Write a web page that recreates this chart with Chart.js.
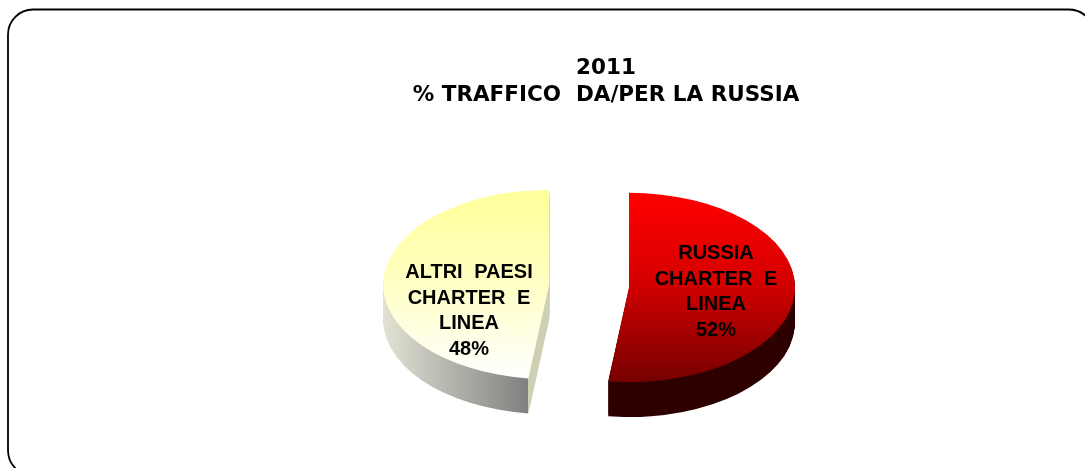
<!DOCTYPE html>
<html><head><meta charset="utf-8">
<style>html,body{margin:0;padding:0;background:#fff}canvas{display:block}</style>
<script src="https://cdn.jsdelivr.net/npm/chart.js@4/dist/chart.umd.min.js"></script>
</head><body>
<canvas id="c" width="1085" height="468"></canvas>
<script>
const titleLines = ["2011", "% TRAFFICO  DA/PER LA RUSSIA"];
const categories = ["RUSSIA CHARTER E LINEA", "ALTRI PAESI CHARTER E LINEA"];
const labelLines = [["RUSSIA", "CHARTER E", "LINEA"], ["ALTRI PAESI", "CHARTER E", "LINEA"]];
const values = [52, 48];

const TILT = 0.57, DEPTH = 35, PIE_X = 589.08, PIE_Y = 286, RADIUS = 166, EXPLODE = 40;
const LABEL_POS = [{x: 716, y: 292}, {x: 469, y: 311}];

function topFill(ctx, i) {
  const c = ctx.chart, a = c.chartArea;
  if (!a) return i === 0 ? "#ff0000" : "#ffff99";
  const cy = (a.top + a.bottom) / 2, R = RADIUS;
  const g = c.ctx.createLinearGradient(0, cy - R, 0, cy + R);
  if (i === 0) { g.addColorStop(0, "#ff0000"); g.addColorStop(0.45, "#d80000"); g.addColorStop(1, "#760000"); }
  else { g.addColorStop(0, "#ffff99"); g.addColorStop(0.45, "#ffffc0"); g.addColorStop(1, "#ffffff"); }
  return g;
}
function sideFill(chart, i) {
  if (i === 0) return "#2e0000";
  const a = chart.chartArea, cx = (a.left + a.right) / 2, R = RADIUS;
  const g = chart.ctx.createLinearGradient(cx - R, 0, cx, 0);
  g.addColorStop(0, "#e2e2d4"); g.addColorStop(0.87, "#808080");
  g.addColorStop(0.875, "#cfcfb4"); g.addColorStop(1, "#cfcfb4");
  return g;
}
const frame = {
  id: "frame",
  beforeDraw(chart) {
    const x = chart.ctx; x.save();
    x.fillStyle = "#fff"; x.fillRect(0, 0, 1085, 468);
    x.strokeStyle = "#000"; x.lineWidth = 1.8;
    x.beginPath(); x.roundRect(8, 9.5, 1086, 466, 25); x.stroke();
    x.restore();
  }
};
const pie3d = {
  id: "pie3d",
  beforeDatasetsDraw(chart) {
    const x = chart.ctx, a = chart.chartArea;
    const arcs = chart.getDatasetMeta(0).data;
    const place = (arc) => {
      const mid = (arc.startAngle + arc.endAngle) / 2;
      x.translate(Math.cos(mid) * EXPLODE, Math.sin(mid) * EXPLODE);
    };
    x.save();
    x.translate(PIE_X, PIE_Y); x.scale(1, TILT);
    x.translate(-(a.left + a.right) / 2, -(a.top + a.bottom) / 2);
    arcs.forEach((arc, i) => {
      const orig = arc.options, fill = sideFill(chart, i);
      arc.options = Object.create(orig, {backgroundColor: {value: fill}});
      for (let d = DEPTH; d >= 1; d--) {
        x.save(); x.translate(0, d / TILT); place(arc); arc.draw(x); x.restore();
      }
      arc.options = orig;
    });
    arcs.forEach((arc) => { x.save(); place(arc); arc.draw(x); x.restore(); });
    x.restore();
    return false;
  },
  afterDraw(chart) {
    const x = chart.ctx;
    x.save();
    x.fillStyle = "#000"; x.font = "bold 20px 'Liberation Sans'";
    x.wordSpacing = "6px";
    x.textAlign = "center"; x.textBaseline = "middle";
    labelLines.forEach((lines, i) => {
      const all = lines.concat(values[i] + "%"), p = LABEL_POS[i];
      all.forEach((t, k) => x.fillText(t, p.x, p.y + (k - (all.length - 1) / 2) * 25.4));
    });
    x.restore();
  }
};
new Chart(document.getElementById("c"), {
  type: "pie",
  data: {labels: categories, datasets: [{
    data: values,
    backgroundColor: ctx => topFill(ctx, ctx.dataIndex),
    borderWidth: 0
  }]},
  options: {
    responsive: false, animation: false,
    radius: RADIUS,
    layout: {padding: {left: 127, top: 55}},
    plugins: {
      legend: {display: false}, tooltip: {enabled: false},
      title: {display: true, text: titleLines, color: "#000", align: "center",
        font: {family: "'DejaVu Sans'", weight: "bold", size: 21.5, lineHeight: 1.26}, padding: 0}
    }
  },
  plugins: [frame, pie3d]
});
</script>
</body></html>
